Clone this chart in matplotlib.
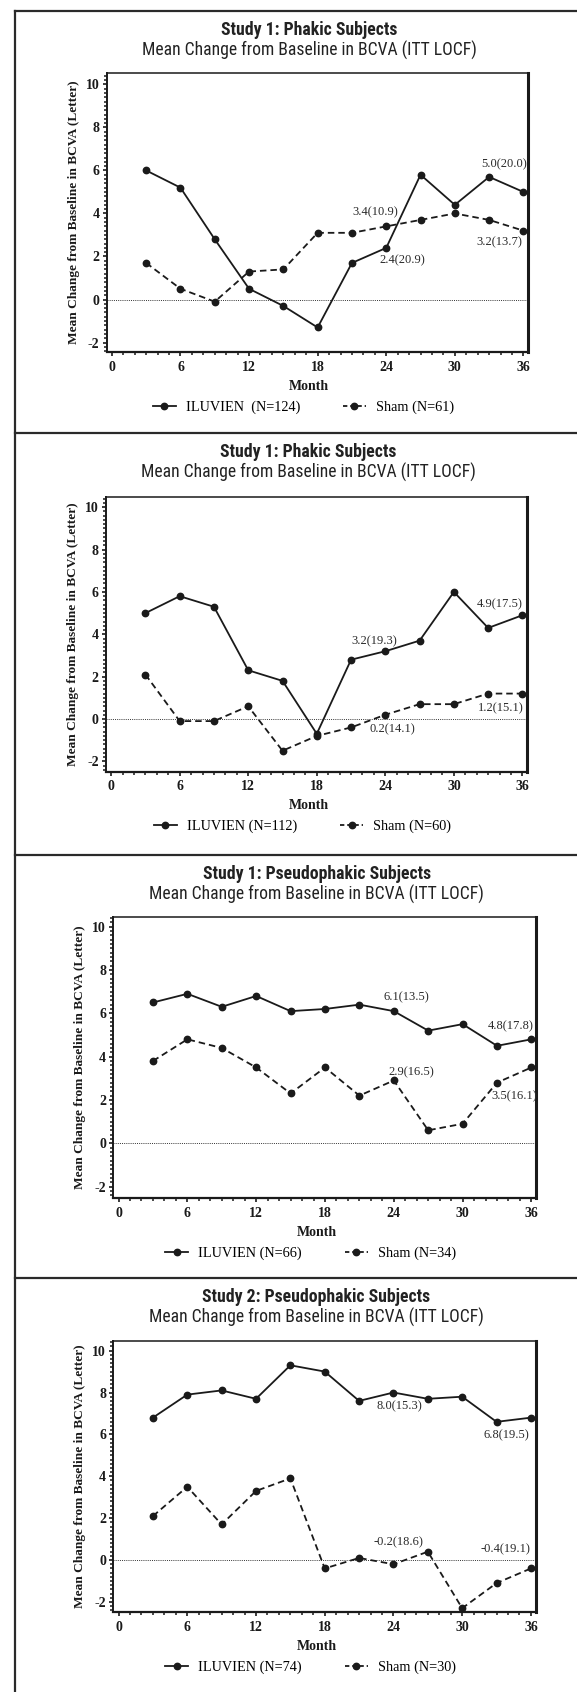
import matplotlib
matplotlib.use("Agg")
import matplotlib.pyplot as plt
from matplotlib.lines import Line2D
from matplotlib.ticker import MultipleLocator
from matplotlib import font_manager as fm

W, H = 577, 1692
DPI = 100

months = [3, 6, 9, 12, 15, 18, 21, 24, 27, 30, 33, 36]

p1_iluvien = [6.0, 5.2, 2.8, 0.5, -0.3, -1.3, 1.7, 2.4, 5.8, 4.4, 5.7, 5.0]
p1_sham = [1.7, 0.5, -0.1, 1.3, 1.4, 3.1, 3.1, 3.4, 3.7, 4.0, 3.7, 3.2]
p2_iluvien = [5.0, 5.8, 5.3, 2.3, 1.8, -0.7, 2.8, 3.2, 3.7, 6.0, 4.3, 4.9]
p2_sham = [2.1, -0.1, -0.1, 0.6, -1.5, -0.8, -0.4, 0.2, 0.7, 0.7, 1.2, 1.2]
p3_iluvien = [6.5, 6.9, 6.3, 6.8, 6.1, 6.2, 6.4, 6.1, 5.2, 5.5, 4.5, 4.8]
p3_sham = [3.8, 4.8, 4.4, 3.5, 2.3, 3.5, 2.2, 2.9, 0.6, 0.9, 2.8, 3.5]
p4_iluvien = [6.8, 7.9, 8.1, 7.7, 9.3, 9.0, 7.6, 8.0, 7.7, 7.8, 6.6, 6.8]
p4_sham = [2.1, 3.5, 1.7, 3.3, 3.9, -0.4, 0.1, -0.2, 0.4, -2.3, -1.1, -0.4]

titles = ["Study 1: Phakic Subjects", "Study 1: Phakic Subjects",
          "Study 1: Pseudophakic Subjects", "Study 2: Pseudophakic Subjects"]
subtitle = "Mean Change from Baseline in BCVA (ITT LOCF)"
iluvien_labels = ["ILUVIEN  (N=124)", "ILUVIEN (N=112)", "ILUVIEN (N=66)", "ILUVIEN (N=74)"]
sham_labels = ["Sham (N=61)", "Sham (N=60)", "Sham (N=34)", "Sham (N=30)"]

p1_notes = [("5.0(20.0)", 34.3, 6.29), ("3.4(10.9)", 23.0, 4.06),
            ("3.2(13.7)", 33.9, 2.67), ("2.4(20.9)", 25.4, 1.83)]
p2_notes = [("3.2(19.3)", 23.0, 3.69), ("4.9(17.5)", 34.0, 5.42),
            ("1.2(15.1)", 34.1, 0.49), ("0.2(14.1)", 24.6, -0.49)]
p3_notes = [("6.1(13.5)", 25.1, 6.74), ("4.8(17.8)", 34.2, 5.42),
            ("2.9(16.5)", 25.5, 3.29), ("3.5(16.1)", 34.5, 2.18)]
p4_notes = [("8.0(15.3)", 24.5, 7.36), ("6.8(19.5)", 33.9, 5.97),
            ("-0.2(18.6)", 24.4, 0.83), ("-0.4(19.1)", 33.75, 0.53)]

x_ticks = [0, 6, 12, 18, 24, 30, 36]
y_ticks = [-2, 0, 2, 4, 6, 8, 10]
ylabel = "Mean Change from Baseline in BCVA (Letter)"
xlabel = "Month"

panels = [
    (p1_iluvien, p1_sham, p1_notes),
    (p2_iluvien, p2_sham, p2_notes),
    (p3_iluvien, p3_sham, p3_notes),
    (p4_iluvien, p4_sham, p4_notes),
]

# layout in pixels: (left, right, top, bottom) of axes, panel top, ylim
boxes = [
    (106.7, 528.0, 73.0, 352.0, 11, (-2.44, 10.53)),
    (106.0, 527.0, 497.3, 771.7, 433, (-2.49, 10.47)),
    (113.4, 536.0, 916.7, 1198.3, 855, (-2.54, 10.46)),
    (113.4, 535.5, 1341.0, 1612.0, 1278, (-2.48, 10.46)),
]

SERIF = ["Liberation Serif", "DejaVu Serif"]
plt.rcParams['font.family'] = SERIF
plt.rcParams['axes.unicode_minus'] = False


def find_narrow(bold):
    cands = []
    for f in fm.fontManager.ttflist:
        name = f.name.lower()
        path = f.fname.lower()
        is_bold = (f.weight in ("bold", 700, "heavy") or
                   (isinstance(f.weight, int) and f.weight >= 600) or "bold" in path)
        if bold != is_bold:
            continue
        if "italic" in path or "oblique" in path or f.style != "normal":
            continue
        narrow = ("narrow" in name or "narrow" in path or "condensed" in name
                  or "condensed" in path or f.stretch in ("condensed", "semi-condensed"))
        if not narrow:
            continue
        if "mono" in name or "serif" in name:
            continue
        score = 0
        if "liberation" in name:
            score = 5
        elif "roboto" in name:
            score = 4
        elif "open" in name:
            score = 3
        elif "dejavu" in name:
            score = 2
        cands.append((score, f.fname))
    if cands:
        cands.sort(reverse=True)
        return fm.FontProperties(fname=cands[0][1])
    return None


title_fp = find_narrow(True)
sub_fp = find_narrow(False)
if title_fp is None:
    title_fp = fm.FontProperties(family=["Liberation Sans", "DejaVu Sans"], weight="bold")
    title_size = 11.5
else:
    title_size = 12.8
if sub_fp is None:
    sub_fp = fm.FontProperties(family=["Liberation Sans", "DejaVu Sans"])
    sub_size = 12
else:
    sub_size = 12.7
title_fp = title_fp.copy()
title_fp.set_size(title_size)
sub_fp = sub_fp.copy()
sub_fp.set_size(sub_size)

fig = plt.figure(figsize=(W / DPI, H / DPI), dpi=DPI)
fig.patch.set_facecolor("white")


def fx(px):
    return px / W


def fy(py):
    return 1 - py / H


INK = "#1a1a1a"
DASH = (0, (3.6, 2.2))

for i, ((ilu, sham, notes), (l, r, t, b, ptop, ylim)) in enumerate(zip(panels, boxes)):
    ax = fig.add_axes([fx(l), fy(b), (r - l) / W, (b - t) / H])
    ax.set_xlim(-0.45, 36.4)
    ax.set_ylim(*ylim)
    ax.axhline(0, ls=(0, (1, 1.2)), lw=0.7, color="#333333", zorder=1)
    ax.plot(months, ilu, color=INK, lw=1.3, marker="o", ms=4.6, zorder=3)
    ax.plot(months, sham, color=INK, lw=1.3, ls=DASH, marker="o", ms=4.6, zorder=3)
    for txt, xx, yy in notes:
        ax.text(xx, yy, txt, ha="center", va="center", fontsize=9,
                family=SERIF, color="#2a2a2a", zorder=4)
    ax.set_xticks(x_ticks)
    ax.set_yticks(y_ticks)
    ax.xaxis.set_minor_locator(MultipleLocator(1))
    ax.yaxis.set_minor_locator(MultipleLocator(0.2))
    ax.tick_params(axis="both", which="major", direction="out", length=3.2, width=1.2,
                   colors=INK, labelsize=10, pad=2)
    ax.tick_params(axis="both", which="minor", direction="out", length=2.0, width=1.1,
                   colors=INK)
    ax.tick_params(axis="x", which="major", pad=3)
    for lab in ax.get_xticklabels() + ax.get_yticklabels():
        lab.set_fontweight("bold")
        lab.set_family(SERIF)
    ax.spines["left"].set_linewidth(1.4)
    ax.spines["bottom"].set_linewidth(1.6)
    ax.spines["right"].set_linewidth(2.2)
    ax.spines["top"].set_linewidth(1.1)
    for s in ax.spines.values():
        s.set_color(INK)

    cx = (l + r) / 2
    # titles
    fig.text(fx(cx - 8), fy(ptop + 19), titles[i], ha="center", va="center",
             fontproperties=title_fp, color="#222222")
    fig.text(fx(cx - 8), fy(ptop + 39), subtitle, ha="center", va="center",
             fontproperties=sub_fp, color="#222222")
    # axis labels
    fig.text(fx(l - 33), fy((t + b) / 2), ylabel, rotation=90, ha="center", va="center",
             fontsize=9.6, fontweight="bold", family=SERIF, color=INK)
    fig.text(fx(cx - 8), fy(b + 34), xlabel, ha="center", va="center",
             fontsize=10, fontweight="bold", family=SERIF, color=INK)
    # legend
    h1 = Line2D([], [], color=INK, lw=1.3, marker="o", ms=4.6)
    h2 = Line2D([], [], color=INK, lw=1.3, ls=(0, (2.4, 1.6)), marker="o", ms=4.6)
    fig.legend([h1, h2], [iluvien_labels[i], sham_labels[i]], loc="center",
               bbox_to_anchor=(fx(cx - 14), fy(b + 55)), ncol=2, frameon=False,
               prop={"family": SERIF, "size": 10.3}, handlelength=1.6,
               handletextpad=0.7, columnspacing=3.0, borderaxespad=0)

# outer frame lines
FRAME = "#2a2a2a"
fig.add_artist(Line2D([fx(15), fx(15)], [fy(11), fy(H + 5)], color=FRAME, lw=1.6))
for yy in [11, 433, 855, 1278]:
    fig.add_artist(Line2D([fx(15), fx(W + 5)], [fy(yy), fy(yy)], color=FRAME, lw=1.6))

fig.savefig("out.png", dpi=DPI, facecolor="white")
